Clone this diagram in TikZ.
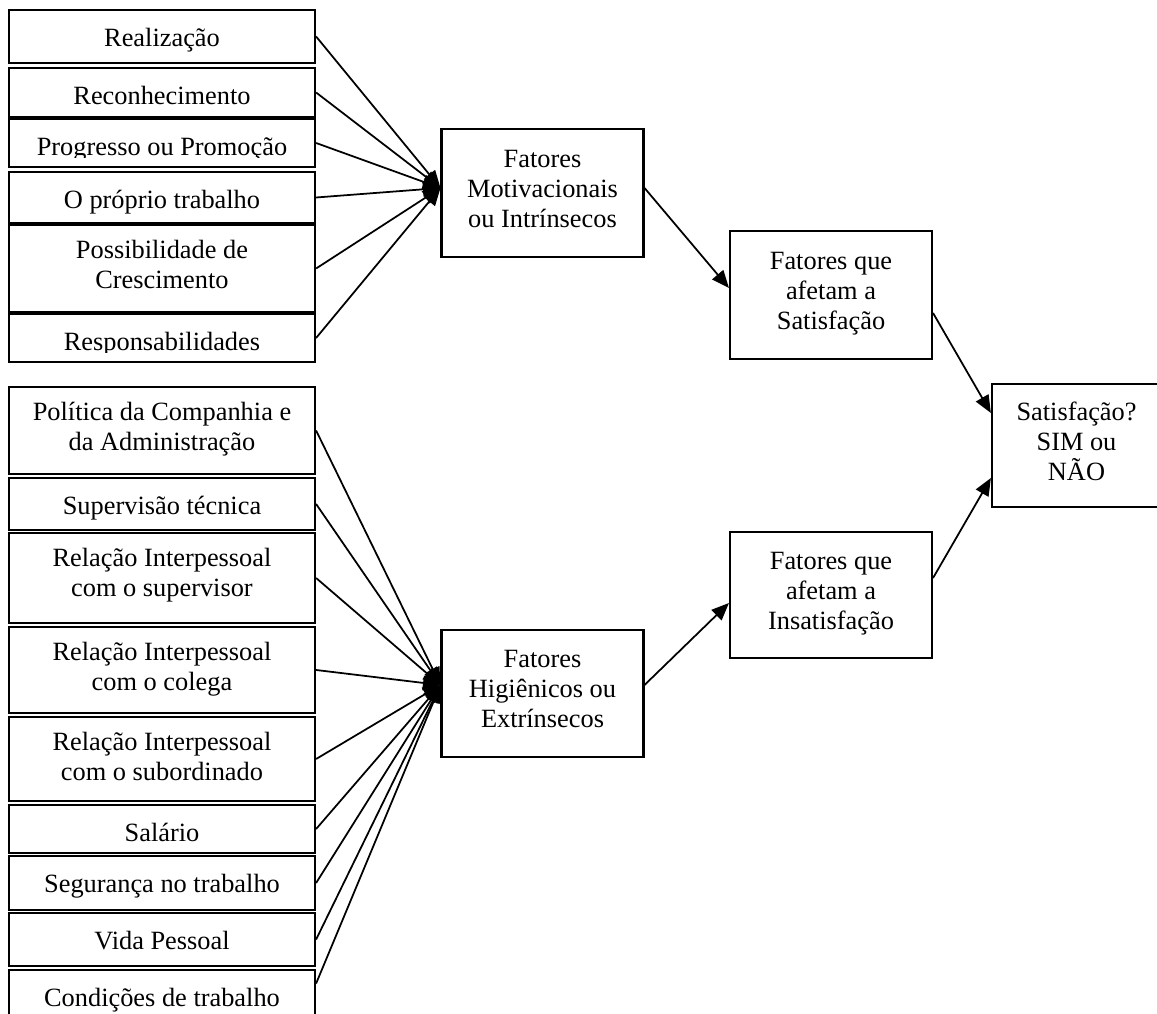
\documentclass[tikz,border=0pt]{standalone}
\usepackage{fontspec}
\setmainfont{Liberation Serif}
\usetikzlibrary{arrows.meta}

% caixa da esquerda: o texto fica cortado pela margem de baixo, como no original
\newcommand{\fator}[4]{%
  \node[fator, minimum height=#3] (#1) at (162,#2) {};
  \begin{scope}
    \clip (#1.north west) rectangle ([yshift=1.7mm]#1.south east);
    \node[rotulo] (#1t) at ([yshift=-2.56mm]#1.north) {#4};
  \end{scope}}

\begin{document}
\begin{tikzpicture}[x=0.16mm, y=-0.16mm, font=\fontsize{12}{13.7}\selectfont,
  fator/.style={draw, line width=1pt, minimum width=48.96mm, inner sep=0pt},
  rotulo/.style={anchor=north, align=center, inner sep=0pt,
    execute at begin node=\strut},
  grupo/.style={draw, line width=1pt, align=center, inner sep=0pt,
    minimum width=32.3mm, execute at begin node=\strut,
    execute at end node=\strut},
  liga/.style={line width=0.8pt, -{Triangle[length=2.8mm, width=2.3mm]}}]
  \useasboundingbox (0,0) rectangle (1157,1014);

  % fatores motivacionais
  \fator{rea}{36.5}{8.48mm}{Realização}
  \fator{rec}{92.5}{7.84mm}{Reconhecimento}
  \fator{pro}{143}{7.68mm}{Progresso ou Promoção}
  \fator{tra}{197.5}{8.16mm}{O próprio trabalho}
  \fator{pos}{268.5}{13.92mm}{Possibilidade de\\Crescimento}
  \fator{res}{338}{7.68mm}{Responsabilidades}

  % fatores higiênicos
  \fator{pol}{430.5}{13.92mm}{Política da Companhia e\\da Administração}
  \fator{sup}{504}{8.32mm}{Supervisão técnica}
  \fator{rsu}{578}{14.4mm}{Relação Interpessoal\\com o supervisor}
  \fator{rco}{670}{13.76mm}{Relação Interpessoal\\com o colega}
  \fator{rsb}{759}{13.44mm}{Relação Interpessoal\\com o subordinado}
  \fator{sal}{829}{7.68mm}{Salário}
  \fator{seg}{883}{8.64mm}{Segurança no trabalho}
  \fator{vid}{939.5}{8.48mm}{Vida Pessoal}
  \fator{con}{996}{8.32mm}{Condições de trabalho}

  \node[grupo, minimum height=20.48mm] (mot) at (542.5,193)
    {Fatores\\Motivacionais\\ou Intrínsecos};
  \node[grupo, minimum height=20.32mm] (hig) at (542.5,693.5)
    {Fatores\\Higiênicos ou\\Extrínsecos};
  \node[grupo, minimum height=20.48mm] (sat) at (831,295)
    {Fatores que\\afetam a\\Satisfação};
  \node[grupo, minimum height=20.16mm] (ins) at (831,595)
    {Fatores que\\afetam a\\Insatisfação};
  \node[grupo, minimum width=27.04mm, minimum height=19.68mm] (fin) at (1076.5,445.5)
    {Satisfação?\\SIM ou\\NÃO};

  \foreach \f in {rea,rec,pro,tra,pos,res}
    \draw[liga] (\f.east) -- ([yshift=0.8mm]mot.west);
  \foreach \f in {pol,sup,rsu,rco,rsb,sal,seg,vid}
    \draw[liga] (\f.east) -- ([yshift=1.36mm]hig.west);
  \draw[liga] ([yshift=2mm]con.east) -- ([yshift=1.36mm]hig.west);

  \draw[liga] ([yshift=0.8mm]mot.east) -- ([yshift=1.12mm]sat.west);
  \draw[liga] ([yshift=1.36mm]hig.east) -- ([yshift=-1.28mm]ins.west);
  \draw[liga] ([yshift=-2.88mm]sat.east) -- ([yshift=5.2mm]fin.west);
  \draw[liga] ([yshift=2.72mm]ins.east) -- ([yshift=-5.2mm]fin.west);
\end{tikzpicture}
\end{document}
